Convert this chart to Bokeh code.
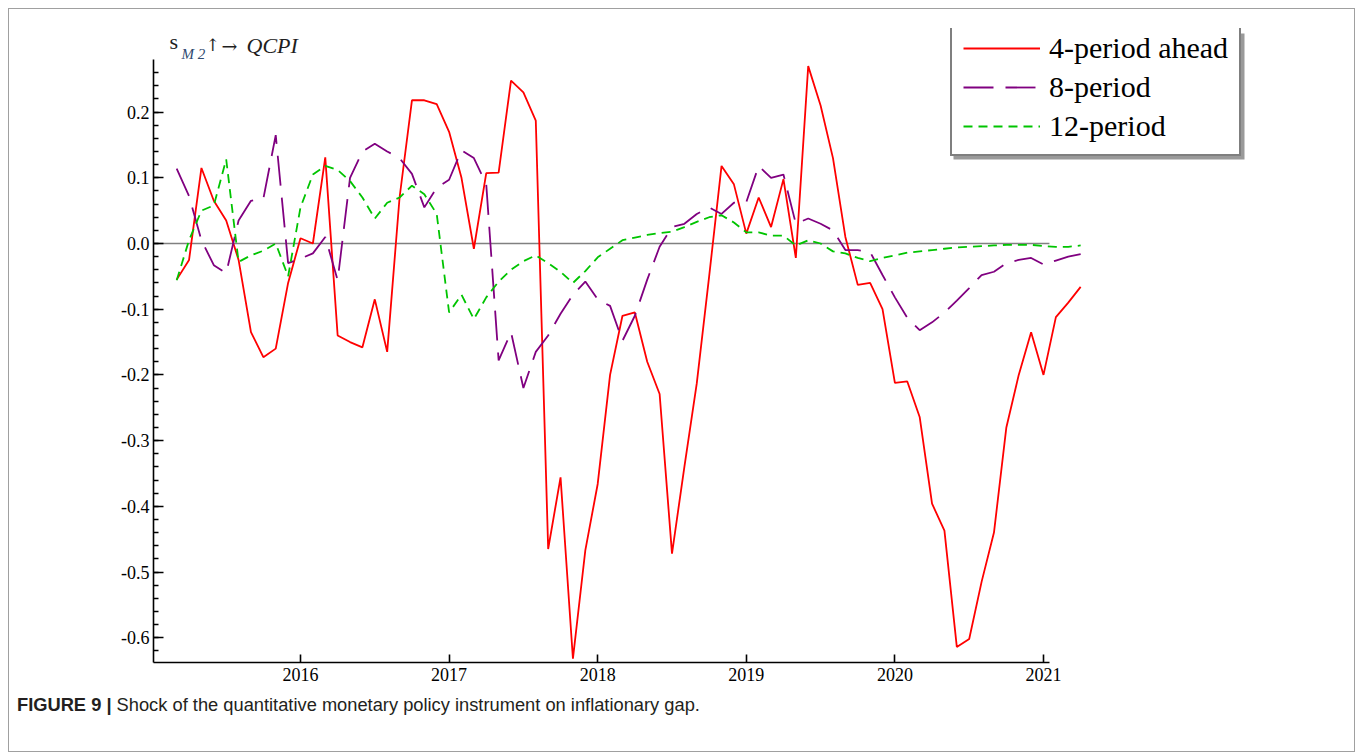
import pandas as pd
from bokeh.plotting import figure
from bokeh.layouts import column
from bokeh.models import (Range1d, FixedTicker, PrintfTickFormatter, Legend,
                          LegendItem, Label, Div, BoxAnnotation)
from bokeh.embed import file_html
from bokeh.resources import INLINE

# ---------------- data (monthly, Mar 2015 - Apr 2021) ----------------
months = pd.date_range("2015-03-01", periods=74, freq="MS")
t = [d.year + (d.month - 1) / 12 for d in months]

ahead4 = [
    -0.055, -0.025, 0.115, 0.065, 0.035, -0.025, -0.135, -0.173, -0.160, -0.060,
    0.008, 0.000, 0.131, -0.140, -0.150, -0.158, -0.085, -0.165, 0.070, 0.218,
    0.218, 0.212, 0.170, 0.100, -0.008, 0.107, 0.108, 0.248, 0.230, 0.187,
    -0.465, -0.356, -0.632, -0.467, -0.366, -0.200, -0.110, -0.105, -0.180, -0.229,
    -0.472, -0.340, -0.213, -0.050, 0.118, 0.090, 0.015, 0.070, 0.025, 0.098,
    -0.022, 0.270, 0.210, 0.130, 0.010, -0.063, -0.060, -0.100, -0.212, -0.210,
    -0.264, -0.396, -0.437, -0.614, -0.602, -0.515, -0.440, -0.280, -0.200, -0.135,
    -0.200, -0.112, -0.090, -0.066,
]
period8 = [
    0.114, 0.072, 0.005, -0.033, -0.045, 0.035, 0.065, 0.068, 0.165, -0.030,
    -0.023, -0.015, 0.010, -0.056, 0.100, 0.140, 0.152, 0.140, 0.130, 0.106,
    0.055, 0.085, 0.097, 0.142, 0.130, 0.090, -0.178, -0.135, -0.220, -0.165,
    -0.140, -0.107, -0.078, -0.058, -0.085, -0.095, -0.148, -0.110, -0.055, -0.005,
    0.025, 0.030, 0.045, 0.055, 0.045, 0.062, 0.063, 0.118, 0.100, 0.105,
    0.030, 0.038, 0.030, 0.020, -0.010, -0.010, -0.013, -0.048, -0.082, -0.113,
    -0.132, -0.120, -0.105, -0.087, -0.068, -0.048, -0.043, -0.030, -0.025, -0.022,
    -0.032, -0.026, -0.020, -0.016,
]
period12 = [
    -0.056, 0.005, 0.050, 0.058, 0.128, -0.028, -0.018, -0.011, 0.000, -0.050,
    0.055, 0.105, 0.118, 0.112, 0.095, 0.070, 0.038, 0.062, 0.070, 0.088,
    0.075, 0.045, -0.105, -0.078, -0.115, -0.082, -0.058, -0.040, -0.027, -0.018,
    -0.030, -0.043, -0.060, -0.042, -0.021, -0.008, 0.005, 0.009, 0.013, 0.016,
    0.018, 0.025, 0.033, 0.040, 0.043, 0.032, 0.017, 0.017, 0.012, 0.012,
    -0.003, 0.005, 0.000, -0.012, -0.015, -0.022, -0.027, -0.022, -0.018, -0.014,
    -0.012, -0.010, -0.008, -0.006, -0.005, -0.004, -0.003, -0.002, -0.002, -0.002,
    -0.004, -0.005, -0.005, -0.003,
]
series_labels = ["4-period ahead", "8-period", "12-period"]
year_ticks = [2016, 2017, 2018, 2019, 2020, 2021]
y_ticks = [-0.6, -0.5, -0.4, -0.3, -0.2, -0.1, 0.0, 0.1, 0.2]
y_minor = [round(-0.62 + 0.02 * i, 2) for i in range(45)]

# ---------------- layout constants (page pixels) ----------------
OX, OY = 9, 9                      # canvas origin on the page (inside border)
F_LEFT, F_TOP, F_RIGHT, F_BOTTOM = 153, 28, 1250, 662
PX_PER_YEAR, X0_PX = 148.6, 151.4  # x pixel of 2015.0
PX_PER_UNIT, Y0_PX = 657.0, 243.0  # y pixel of 0.0

X_START = 2015 + (F_LEFT - X0_PX) / PX_PER_YEAR
X_END = 2015 + (F_RIGHT - X0_PX) / PX_PER_YEAR
Y_START = (Y0_PX - F_BOTTOM) / PX_PER_UNIT
Y_END = (Y0_PX - F_TOP) / PX_PER_UNIT
X_AXIS_END = 2021.04
Y_AXIS_TOP = (Y0_PX - 59) / PX_PER_UNIT

W = 1345
FIG_H = 685
CAP_H = 57
ML = F_LEFT - OX
MT = F_TOP - OY
MR = W - (F_RIGHT - OX)
MB = FIG_H - (F_BOTTOM - OY)


def dx(px):  # page pixel -> data x
    return 2015 + (px - X0_PX) / PX_PER_YEAR


def dy(py):  # page pixel -> data y
    return (Y0_PX - py) / PX_PER_UNIT


p = figure(width=W, height=FIG_H, x_range=Range1d(X_START, X_END),
           y_range=Range1d(Y_START, Y_END), output_backend="svg",
           toolbar_location=None, min_border_left=ML, min_border_right=MR,
           min_border_top=MT, min_border_bottom=MB)
p.grid.visible = False
p.outline_line_color = None
p.background_fill_color = "white"
p.border_fill_color = "white"

SERIF = "Liberation Serif"
for ax in (p.xaxis[0], p.yaxis[0]):
    ax.axis_line_color = "black"
    ax.axis_line_width = 1.6
    ax.major_tick_line_color = "black"
    ax.major_tick_line_width = 1.6
    ax.minor_tick_line_color = "black"
    ax.minor_tick_line_width = 1.4
    ax.major_tick_out = 0
    ax.minor_tick_out = 0
    ax.major_label_text_font = SERIF
    ax.major_label_text_font_size = "18px"
    ax.major_label_text_color = "black"

p.xaxis.ticker = FixedTicker(ticks=year_ticks, minor_ticks=[])
p.xaxis.formatter = PrintfTickFormatter(format="%d")
p.xaxis.major_tick_in = 8
p.xaxis.minor_tick_in = 0
p.xaxis.major_label_standoff = 5
p.xaxis.bounds = (X_START, X_AXIS_END)

p.yaxis.ticker = FixedTicker(ticks=y_ticks, minor_ticks=y_minor)
p.yaxis.formatter = PrintfTickFormatter(format="%.1f")
p.yaxis.major_tick_in = 10
p.yaxis.minor_tick_in = 5
p.yaxis.major_label_standoff = 4
p.yaxis.bounds = (Y_START, Y_AXIS_TOP)

# zero reference line
p.segment(x0=[X_START], y0=[0], x1=[X_AXIS_END], y1=[0],
          line_color="#808080", line_width=1.5)

r1 = p.line(t, ahead4, line_color="#ff0000", line_width=1.8)
r2 = p.line(t, period8, line_color="#800080", line_width=1.8, line_dash="30 12")
r3 = p.line(t, period12, line_color="#00c400", line_width=1.8, line_dash="9 6")

# legend drop shadow
p.add_layout(BoxAnnotation(left=dx(953), right=dx(1244), top=dy(33),
                           bottom=dy(159), fill_color="#9a9a9a",
                           fill_alpha=1.0, line_color=None))

legend = Legend(items=[LegendItem(label=series_labels[0], renderers=[r1]),
                       LegendItem(label=series_labels[1], renderers=[r2]),
                       LegendItem(label=series_labels[2], renderers=[r3])],
                location=(950 - F_LEFT, F_BOTTOM - 156), glyph_width=77,
                glyph_height=32, label_height=32, label_standoff=9, spacing=5,
                padding=11, margin=0, label_text_font=SERIF,
                label_text_font_size="30px", label_text_color="black",
                border_line_color="black", border_line_width=2.5,
                background_fill_color="white", background_fill_alpha=1.0)
p.add_layout(legend)

# y-axis title  s_{M 2} ↑ → QCPI
TXT = "#1e1e1e"
p.add_layout(Label(x=dx(169), y=dy(53), text="s", text_font=SERIF,
                   text_font_size="22px", text_color=TXT))
p.add_layout(Label(x=dx(181), y=dy(61), text="M 2", text_font=SERIF,
                   text_font_style="italic", text_font_size="15px",
                   text_color="#2f4a70"))
p.add_layout(Label(x=dx(205), y=dy(54), text="↑", text_font="DejaVu Serif",
                   text_font_size="17px", text_color=TXT))
p.add_layout(Label(x=dx(221), y=dy(56), text="→", text_font="DejaVu Serif",
                   text_font_size="19px", text_color=TXT))
p.add_layout(Label(x=dx(246), y=dy(57), text="QCPI", text_font=SERIF,
                   text_font_style="italic", text_font_size="22px",
                   text_color=TXT))

caption = Div(
    text="<b>FIGURE 9 |</b> Shock of the quantitative monetary policy "
         "instrument on inflationary gap.",
    width=W, height=CAP_H,
    styles={"font-family": "'Liberation Sans', Arial, sans-serif",
            "font-size": "18.3px", "line-height": "20px", "color": "#231f20",
            "padding-left": "8px", "padding-top": "1px", "margin": "0"})

layout = column(p, caption, spacing=0,
                styles={"border": "1px solid #a0a0a0", "margin-left": "8px",
                        "margin-top": "8px", "background-color": "white"})

open("out.html", "w").write(file_html(layout, INLINE))
